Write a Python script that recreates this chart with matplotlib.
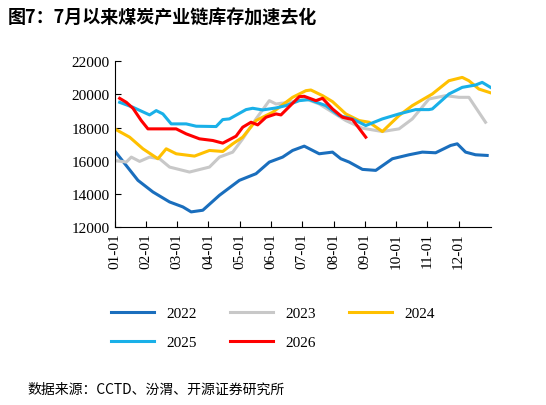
import matplotlib.pyplot as plt
import numpy as np

plt.rcParams['font.family'] = ['Liberation Serif', 'Noto Sans CJK SC']

# x in months since 01-01, values in tonnes
x22 = [48, 115, 160, 210, 250, 275, 310, 360, 420, 470, 510, 550, 580, 615, 660, 700, 725, 750, 790, 830, 880, 930, 970, 1010, 1055, 1075, 1100, 1130, 1165]
y22 = [16520, 14820, 14120, 13520, 13220, 12920, 13020, 13920, 14820, 15220, 15920, 16220, 16620, 16880, 16420, 16520, 16120, 15920, 15480, 15420, 16120, 16360, 16520, 16480, 16920, 17020, 16520, 16360, 16320]
x23 = [45, 80, 95, 120, 150, 180, 210, 270, 330, 360, 400, 430, 470, 510, 530, 570, 620, 660, 700, 740, 790, 850, 900, 940, 990, 1040, 1080, 1110, 1140, 1160]
y23 = [16020, 15920, 16220, 15960, 16220, 16120, 15620, 15320, 15620, 16220, 16520, 17320, 18520, 19620, 19420, 19520, 19720, 19420, 18920, 18420, 17960, 17760, 17920, 18520, 19720, 19920, 19820, 19820, 18920, 18320]
x24 = [45, 90, 130, 175, 200, 230, 285, 330, 370, 400, 430, 470, 520, 580, 620, 635, 670, 700, 740, 780, 810, 850, 900, 940, 1000, 1050, 1090, 1110, 1140, 1180]
y24 = [17920, 17420, 16720, 16120, 16720, 16420, 16280, 16620, 16560, 17020, 17420, 18420, 18920, 19820, 20220, 20260, 19920, 19560, 18820, 18420, 18320, 17760, 18720, 19320, 20020, 20820, 21020, 20820, 20320, 20060]
x25 = [60, 100, 150, 170, 190, 215, 260, 290, 350, 370, 390, 440, 460, 490, 530, 560, 600, 630, 680, 720, 760, 800, 850, 900, 950, 990, 1000, 1050, 1090, 1130, 1150, 1175]
y25 = [19520, 19220, 18760, 19020, 18820, 18220, 18220, 18080, 18060, 18480, 18520, 19080, 19160, 19060, 19180, 19320, 19620, 19680, 19320, 18720, 18520, 18120, 18520, 18820, 19080, 19080, 19120, 20020, 20420, 20560, 20720, 20420]
x26 = [60, 80, 100, 125, 145, 180, 230, 260, 300, 340, 370, 410, 430, 455, 475, 500, 530, 545, 600, 615, 650, 670, 700, 730, 760, 800]
y26 = [19760, 19520, 19160, 18420, 17920, 17920, 17920, 17620, 17320, 17220, 17060, 17480, 18020, 18320, 18160, 18620, 18820, 18760, 19860, 19880, 19620, 19760, 19120, 18620, 18480, 17420]

months = [f'{m:02d}-01' for m in range(1, 13)]
series = [('2022', x22, y22, '#1a6ebd'), ('2023', x23, y23, '#c8c8c8'),
          ('2024', x24, y24, '#ffc000'), ('2025', x25, y25, '#19b0e8'),
          ('2026', x26, y26, '#ff0000')]


def to_month(px):
    return (np.array(px) - 45) / 94.0


fig = plt.figure(figsize=(5.46, 4.06), dpi=100)
ax = fig.add_axes([0.21, 0.438, 0.69, 0.409])
for name, xs, ys, c in series:
    ax.plot(to_month(xs), ys, color=c, lw=2.2, label=name)

ax.set_xlim(0, 12.05)
ax.set_ylim(12000, 22000)
ax.set_yticks(range(12000, 22001, 2000))
ax.set_xticks(range(12))
ax.set_xticklabels(months, rotation=90, fontsize=11)
ax.tick_params(axis='y', labelsize=11)
ax.tick_params(direction='in', length=4)
for s in ['top', 'right']:
    ax.spines[s].set_visible(False)

# reorder so legend reads row by row
h, l = ax.get_legend_handles_labels()
order = [0, 3, 1, 4, 2]
fig.legend([h[i] for i in order], [l[i] for i in order], ncol=3, loc='center',
           bbox_to_anchor=(0.5, 0.19), frameon=False, fontsize=11,
           handlelength=2.8, columnspacing=2.2, labelspacing=1.0)

fig.text(0.015, 0.955, '图7：7月以来煤炭产业链库存加速去化', fontsize=13, fontweight='bold',
         family=['Noto Sans CJK SC'], va='center')
fig.text(0.05, 0.04, '数据来源：CCTD、汾渭、开源证券研究所', fontsize=10,
         family=['Noto Sans CJK SC'], va='center')
fig.savefig('out.png')
